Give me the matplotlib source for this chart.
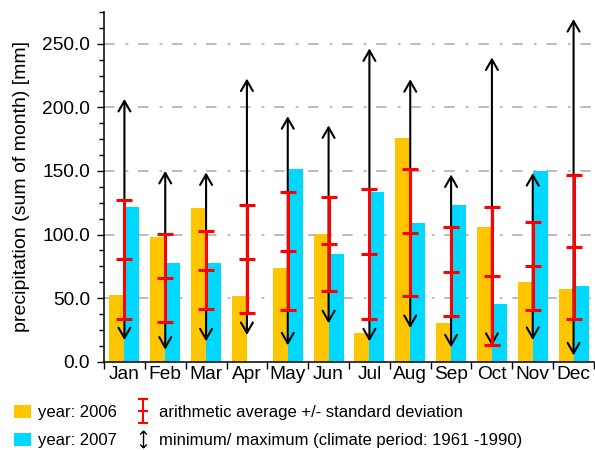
import matplotlib
matplotlib.use("Agg")
import matplotlib.pyplot as plt
import numpy as np
from matplotlib.patches import Patch, FancyArrowPatch
from matplotlib.lines import Line2D
from matplotlib.path import Path
from matplotlib.ticker import FormatStrFormatter, MultipleLocator, FixedLocator

plt.rcParams['font.family'] = ['Liberation Sans', 'DejaVu Sans']
plt.rcParams['lines.scale_dashes'] = False

months = ["Jan", "Feb", "Mar", "Apr", "May", "Jun", "Jul", "Aug", "Sep", "Oct", "Nov", "Dec"]
y2006 = [52.8, 97.8, 120.7, 52.0, 73.3, 100.2, 22.9, 175.9, 30.8, 105.7, 62.3, 56.8]
y2007 = [121.5, 77.3, 77.3, 0.0, 151.2, 84.4, 133.3, 108.8, 123.0, 45.7, 149.8, 59.9]
clim_mean = [80.4, 66.0, 72.3, 81.0, 87.0, 92.8, 84.9, 101.5, 70.7, 67.5, 75.2, 90.4]
clim_sd = [47.0, 34.5, 30.8, 42.5, 46.3, 37.0, 51.0, 49.7, 35.0, 54.3, 34.5, 56.7]
clim_min = [17.0, 9.5, 16.0, 21.0, 12.9, 30.2, 16.0, 26.5, 11.3, 12.5, 17.1, 5.0]
clim_max = [206.6, 150.0, 148.8, 222.6, 193.0, 185.8, 246.3, 222.1, 147.2, 239.2, 148.3, 269.4]

c2006 = "#ffc600"
c2007 = "#00d8ff"

fig = plt.figure(figsize=(5.95, 4.5), dpi=100)
ax = fig.add_axes([0.1748, 0.1962, 0.8235, 0.7773])

x = np.arange(len(months))
w = 0.367
ax.bar(x - w / 2, y2006, width=w, color=c2006, zorder=2)
ax.bar(x + w / 2, y2007, width=w, color=c2007, zorder=2)

for xi, lo, hi in zip(x, clim_min, clim_max):
    arr = FancyArrowPatch((xi, lo), (xi, hi), arrowstyle="<->,head_length=7.5,head_width=4.3",
                          mutation_scale=1, lw=1.5, color="black", shrinkA=0, shrinkB=0, zorder=3)
    ax.add_patch(arr)

ax.errorbar(x, clim_mean, yerr=clim_sd, fmt="_", ms=11, mew=2.2, color="#ff0000",
            ecolor="#ff0000", elinewidth=2.2, capsize=5.5, capthick=2.2, zorder=4)

ax.set_xlim(-0.5, 11.5)
ax.set_ylim(0, 275)

ax.yaxis.set_major_locator(FixedLocator([0, 50, 100, 150, 200, 250]))
ax.yaxis.set_minor_locator(MultipleLocator(12.5))
ax.yaxis.set_major_formatter(FormatStrFormatter("%.1f"))
ax.tick_params(axis="y", which="major", length=5, width=1, pad=5, labelsize=13.8, direction="out")
ax.tick_params(axis="y", which="minor", length=3.5, width=1, direction="out")

ax.xaxis.set_major_locator(FixedLocator(np.arange(-0.5, 12, 1.0)))
ax.xaxis.set_major_formatter(plt.NullFormatter())
ax.xaxis.set_minor_locator(FixedLocator(x))
ax.set_xticks(x, months, minor=True)
ax.tick_params(axis="x", which="major", length=5, width=1, direction="out")
ax.tick_params(axis="x", which="minor", length=0, pad=3, labelsize=13.8)

for s in ["top", "right"]:
    ax.spines[s].set_visible(False)
for s in ["left", "bottom"]:
    ax.spines[s].set_linewidth(1.1)

for gy in [50, 100, 150, 200, 250]:
    ax.axhline(gy, color="#a8a8a8", lw=1.1, dashes=(7.5, 8, 2, 7), zorder=1)

ax.set_ylabel("precipitation (sum of month) [mm]", fontsize=14, labelpad=9)

# legend symbols
errv = [(0, -1), (0, 1), (-0.4, 1), (0.4, 1), (-0.4, 0), (0.4, 0), (-0.4, -1), (0.4, -1)]
errc = [Path.MOVETO, Path.LINETO] * 4
err_path = Path(errv, errc)
arv = [(0, -1), (0, 1), (-0.4, 0.6), (0, 1), (0.4, 0.6), (-0.4, -0.6), (0, -1), (0.4, -0.6)]
arc = [Path.MOVETO, Path.LINETO, Path.MOVETO, Path.LINETO, Path.LINETO,
       Path.MOVETO, Path.LINETO, Path.LINETO]
ar_path = Path(arv, arc)

handles = [
    Patch(facecolor=c2006, edgecolor="none"),
    Patch(facecolor=c2007, edgecolor="none"),
    Line2D([], [], ls="none", marker=err_path, ms=17, mec="#ff0000", mew=1.5, mfc="none"),
    Line2D([], [], ls="none", marker=ar_path, ms=12, mec="black", mew=1.0, mfc="none"),
]
labels = ["year: 2006", "year: 2007", "arithmetic average +/- standard deviation",
          "minimum/ maximum (climate period: 1961 -1990)"]
fig.legend(handles, labels, ncol=2, loc="upper left", bbox_to_anchor=(0.0235, 0.1),
           frameon=False, fontsize=12, handlelength=1.0, handleheight=0.8,
           handletextpad=0.42, columnspacing=1.1, borderpad=0, borderaxespad=0,
           labelspacing=0.78)

fig.savefig("out.png", dpi=100)
